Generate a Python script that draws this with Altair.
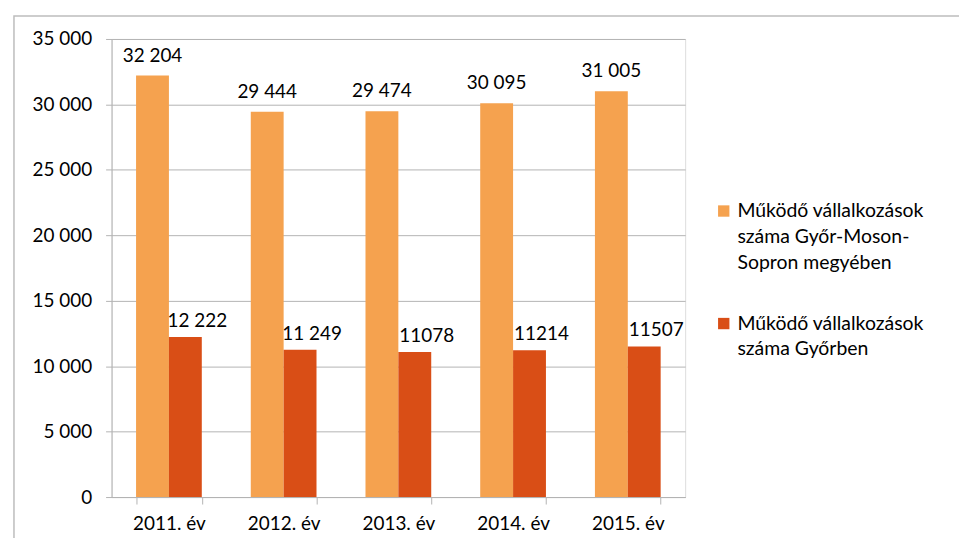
import altair as alt
import pandas as pd
import json

years = ["2011. év", "2012. év", "2013. év", "2014. év", "2015. év"]
county = [32204, 29444, 29474, 30095, 31005]
city = [12222, 11249, 11078, 11214, 11507]
county_labels = ["32 204", "29 444", "29 474", "30 095", "31 005"]
city_labels = ["12 222", "11 249", "11078", "11214", "11507"]

s1 = "Működő vállalkozások száma Győr-Moson-Sopron megyében"
s2 = "Működő vállalkozások száma Győrben"
s1_lines = ["Működő vállalkozások", "száma Győr-Moson-", "Sopron megyében"]
s2_lines = ["Működő vállalkozások", "száma Győrben"]
series = [s1, s2]
colors = ["#F5A24F", "#D94E16"]

rows = []
for i, y in enumerate(years):
    rows.append({"year": y, "series": s1, "value": county[i], "label": county_labels[i]})
    rows.append({"year": y, "series": s2, "value": city[i], "label": city_labels[i]})
df = pd.DataFrame(rows)

FONT = "Lato"
FS = 19
GRAY = "#b3b3b3"

label_expr = (
    f"datum.label == {json.dumps(s1, ensure_ascii=False)} ? {json.dumps(s1_lines, ensure_ascii=False)} : "
    f"{json.dumps(s2_lines, ensure_ascii=False)}"
)

x_enc = alt.X(
    "year:N", sort=years,
    scale=alt.Scale(paddingInner=0.427, paddingOuter=0.2135),
    axis=alt.Axis(title=None, tickBand="extent", labelAngle=0, domainColor=GRAY,
                  tickColor=GRAY, tickSize=7, labelPadding=11, grid=False,
                  labelFont=FONT, labelFontSize=FS, labelColor="#000000"),
)
xo_enc = alt.XOffset("series:N", sort=series, scale=alt.Scale(paddingInner=0, paddingOuter=0))
y_enc = alt.Y(
    "value:Q",
    scale=alt.Scale(domain=[0, 35000], nice=False),
    axis=alt.Axis(title=None, values=list(range(0, 35001, 5000)),
                  labelExpr="replace(format(datum.value, ',d'), ',', ' ')",
                  domainColor=GRAY, tickColor=GRAY, tickSize=6, labelPadding=14,
                  gridColor=GRAY, grid=True,
                  labelFont=FONT, labelFontSize=FS, labelColor="#000000"),
)

frame = alt.Chart(alt.Data(values=[{"k": 1}])).mark_rect(
    fill="transparent", stroke="#bdbdbd", strokeWidth=1.5
).encode(x=alt.value(-98), x2=alt.value(900), y=alt.value(-23), y2=alt.value(540))

base = alt.Chart(df)

bars = base.mark_bar().encode(
    x=x_enc, xOffset=xo_enc, y=y_enc,
    color=alt.Color(
        "series:N", sort=series,
        scale=alt.Scale(domain=series, range=colors),
        legend=alt.Legend(
            title=None, orient="none", legendX=605, legendY=169,
            symbolType="M-1,-2.05H1V-0.05H-1Z", symbolSize=130, symbolStrokeWidth=0,
            labelFont=FONT, labelFontSize=19.5, labelColor="#000000",
            labelBaseline="alphabetic", labelLimit=0, labelOffset=4,
            rowPadding=40, padding=0, labelExpr=label_expr,
        ),
    ),
)

t1 = base.transform_filter(alt.datum.series == s1).mark_text(
    font=FONT, fontSize=FS, color="#000000", baseline="alphabetic", dy=-14
).encode(x=x_enc, xOffset=xo_enc, y=y_enc, text="label:N")

t2 = base.transform_filter(alt.datum.series == s2).mark_text(
    font=FONT, fontSize=FS, color="#000000", baseline="alphabetic", dy=-10, dx=12
).encode(x=x_enc, xOffset=xo_enc, y=y_enc, text="label:N")

chart = alt.layer(frame, bars, t1, t2).properties(
    width=576, height=460,
    padding={"left": 104, "top": 30, "right": 275, "bottom": 40},
    autosize=alt.AutoSizeParams(type="none"),
).configure_view(stroke="transparent").configure(
    style={"guide-label": {"lineHeight": 26}}
)

chart.save("out.html", embed_options={"renderer": "svg", "actions": False})
